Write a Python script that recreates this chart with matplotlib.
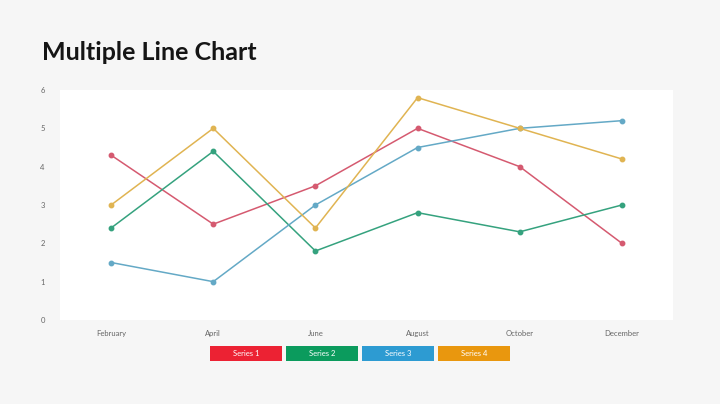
import numpy as np
import matplotlib
matplotlib.use("Agg")
import matplotlib.pyplot as plt
from matplotlib.patches import Rectangle

months = ["February", "April", "June", "August", "October", "December"]
series_names = ["Series 1", "Series 2", "Series 3", "Series 4"]
series_1 = [4.3, 2.5, 3.5, 5.0, 4.0, 2.0]
series_2 = [2.4, 4.4, 1.8, 2.8, 2.3, 3.0]
series_3 = [1.5, 1.0, 3.0, 4.5, 5.0, 5.2]
series_4 = [3.0, 5.0, 2.4, 5.8, 5.0, 4.2]

line_colors = ["#d55a70", "#35a27e", "#64a9c6", "#e0b452"]
box_colors = ["#ec2233", "#0b9b5d", "#2d9bd2", "#e9970e"]

W, H = 720, 404
fig = plt.figure(figsize=(7.2, 4.04), dpi=100)
fig.patch.set_facecolor("#f6f6f6")

ax = fig.add_axes([60 / W, 1 - 320 / H, 613 / W, 230 / H])
ax.set_facecolor("white")

x = np.arange(len(months))
for vals, col in zip([series_1, series_2, series_3, series_4], line_colors):
    ax.plot(x, vals, color=col, lw=1.1, marker="o", ms=3.2, mec=col, mfc=col)

ax.set_xlim(-0.5, len(months) - 0.5)
ax.set_ylim(0, 6)
ax.set_yticks(range(0, 7))
ax.set_xticks(x)
ax.set_xticklabels(months)
for s in ax.spines.values():
    s.set_visible(False)
ax.tick_params(axis="both", length=0, labelsize=5.5, labelcolor="#666666")
ax.tick_params(axis="y", pad=11)
ax.tick_params(axis="x", pad=7)
for lab in ax.get_xticklabels() + ax.get_yticklabels():
    lab.set_family("Lato")

fig.text(42 / W, 1 - 53 / H, "Multiple Line Chart", fontsize=18, fontweight="bold",
         family="Lato", color="#151515", va="center", ha="left")

# legend boxes
box_x = [210, 286, 362, 438]
for bx, name, col in zip(box_x, series_names, box_colors):
    fig.patches.append(Rectangle((bx / W, 1 - 361 / H), 72 / W, 15 / H,
                                 transform=fig.transFigure, facecolor=col,
                                 edgecolor="none"))
    fig.text((bx + 36) / W, 1 - 353.5 / H, name, fontsize=5.5, color="white",
             ha="center", va="center", family="Lato")

fig.savefig("out.png", dpi=100, facecolor=fig.get_facecolor())
